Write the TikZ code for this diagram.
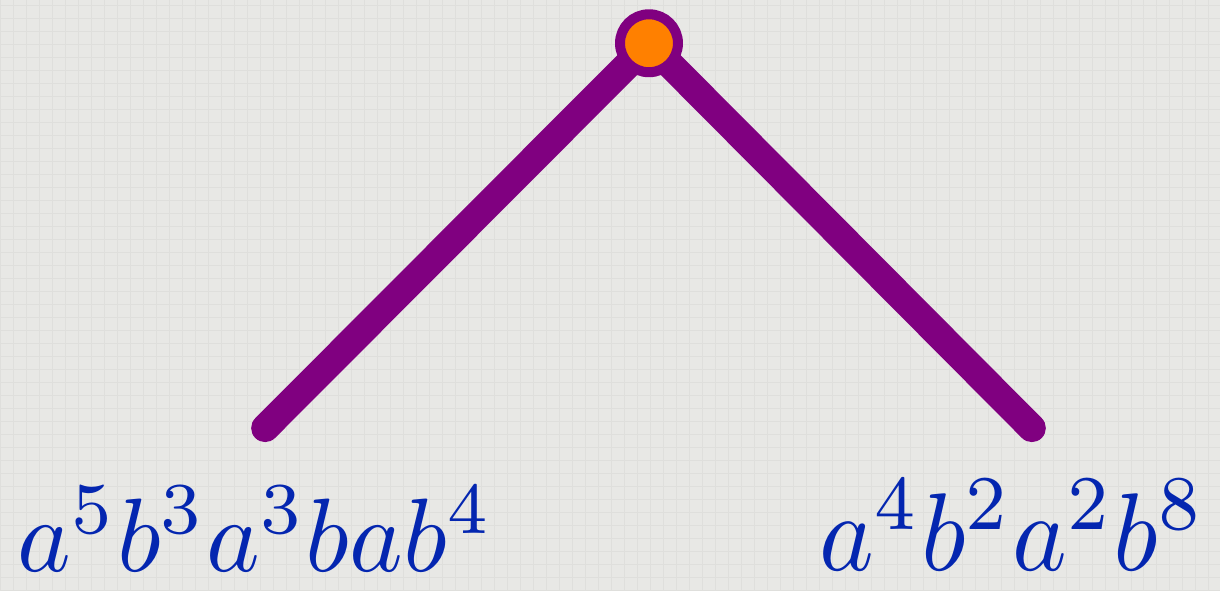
\documentclass[tikz,border=0pt]{standalone}
\usepackage{graphicx}
\begin{document}
\begin{tikzpicture}
\definecolor{bgc}{HTML}{E8E8E5}
\definecolor{gridc}{HTML}{DFDFDC}
\definecolor{edgec}{HTML}{800080}
\definecolor{nodec}{HTML}{FF8000}
\definecolor{inkc}{HTML}{0426B0}
\tikzset{
  edge/.style={draw=edgec, line width=0.56cm, line cap=round},
  vertex/.style={circle, fill=nodec, draw=edgec, line width=0.2cm, minimum size=1.16cm, inner sep=0pt},
  word/.style={text=inkc, inner sep=0pt}
}
\fill[bgc] (0,0) rectangle (24.4,11.8);
\draw[gridc, line width=0.3pt, step=0.26cm] (0,0) grid (24.4,11.8);
\useasboundingbox (0,0) rectangle (24.4,11.8);
\coordinate (t) at (12.98,10.94);
\coordinate (l) at (5.30,3.24);
\coordinate (r) at (20.64,3.24);
\draw[edge] (t) -- (l);
\draw[edge] (t) -- (r);
\node[vertex] (top) at (t) {};
\node[word] (wl) at (5.1,1.22) {\resizebox{9.5cm}{1.7cm}{$a^5b^3a^3bab^4$}};
\node[word] (wr) at (20.25,1.3) {\resizebox{7.7cm}{1.8cm}{$a^4b^2a^2b^8$}};
\end{tikzpicture}
\end{document}
